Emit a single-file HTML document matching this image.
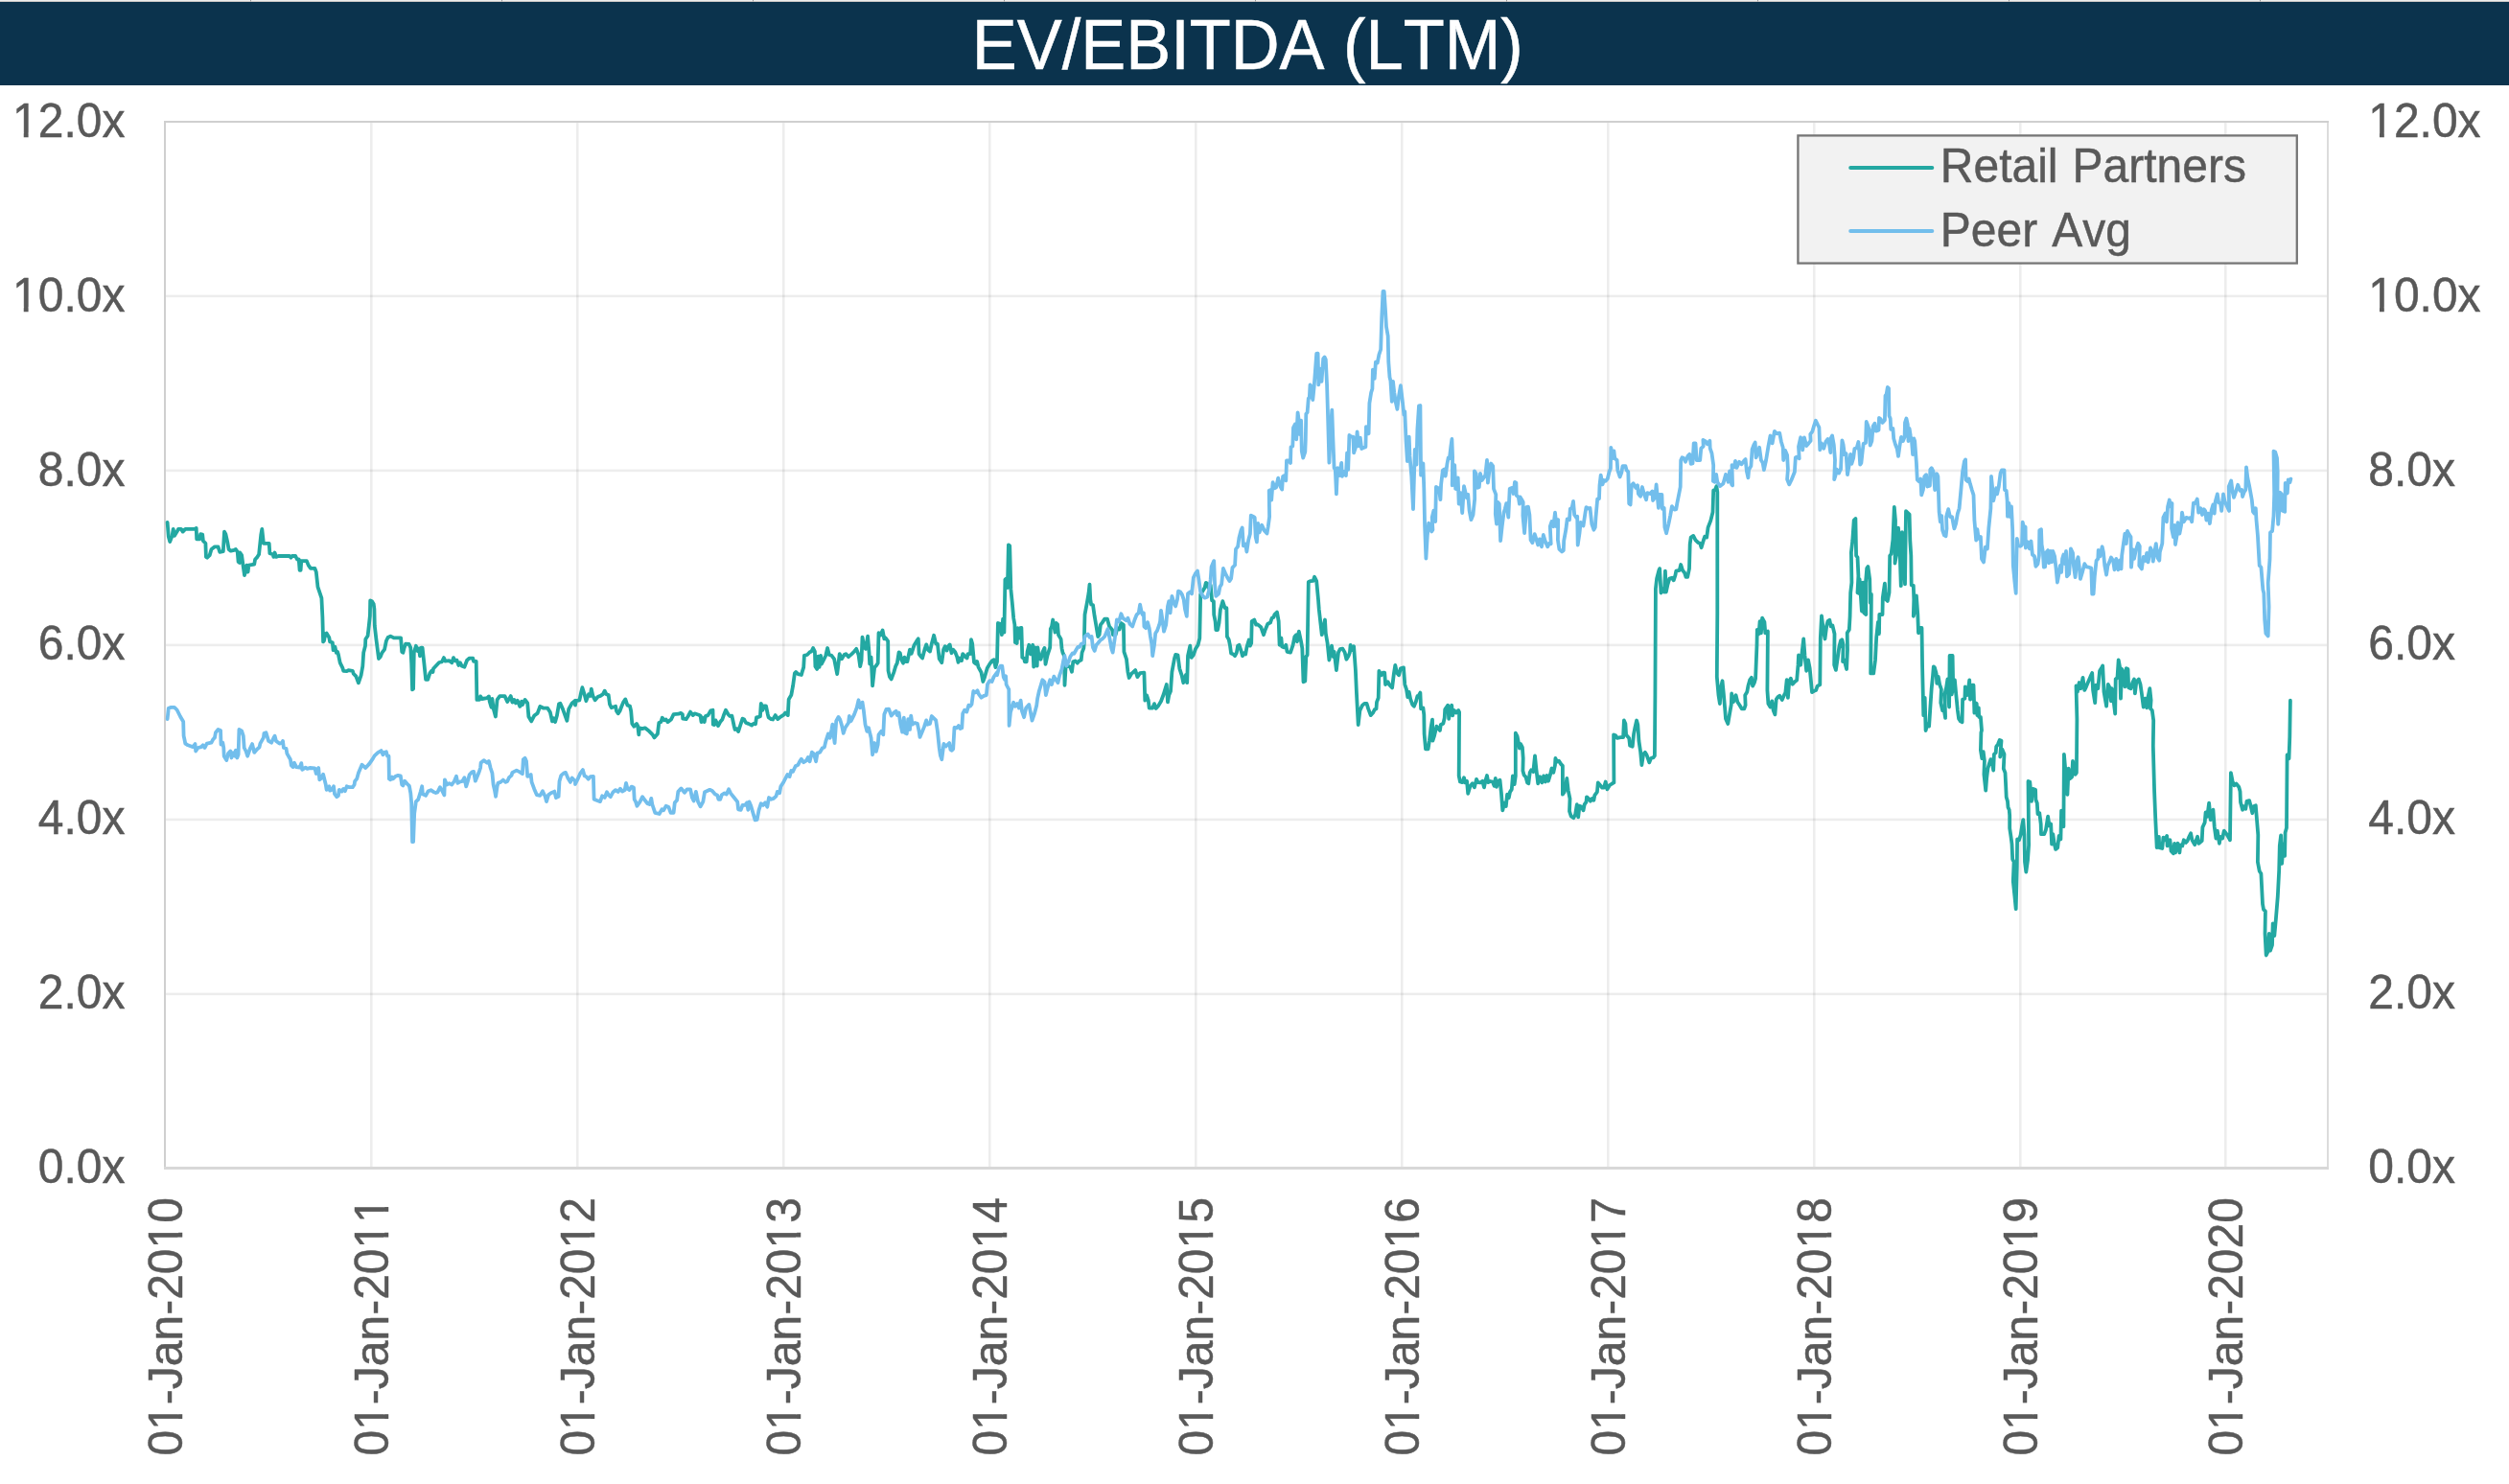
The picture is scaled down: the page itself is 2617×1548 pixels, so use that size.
<!DOCTYPE html>
<html><head><meta charset="utf-8"><title>EV/EBITDA (LTM)</title>
<style>
html,body{margin:0;padding:0;background:#fff;}
body{width:2617px;height:1548px;overflow:hidden;position:relative;font-family:"Liberation Sans",sans-serif;}
svg{position:absolute;left:0;top:0;display:block;}
text{font-family:"Liberation Sans",sans-serif;font-kerning:none;}
</style></head><body>
<svg width="2617" height="1548" viewBox="0 0 2617 1548">
<rect x="0" y="0" width="2617" height="1548" fill="#ffffff"/>
<rect x="0" y="0" width="2617" height="1" fill="#ededed"/><rect x="0" y="1" width="2617" height="1" fill="#cfcac8"/>
<g fill="#8a8a8a" fill-opacity="0.85"><rect x="261" y="0" width="1" height="1.4"/><rect x="523" y="0" width="1" height="1.4"/><rect x="785" y="0" width="1" height="1.4"/><rect x="1047" y="0" width="1" height="1.4"/><rect x="1309" y="0" width="1" height="1.4"/><rect x="1571" y="0" width="1" height="1.4"/><rect x="1833" y="0" width="1" height="1.4"/><rect x="2095" y="0" width="1" height="1.4"/><rect x="2357" y="0" width="1" height="1.4"/></g>
<rect x="0" y="2" width="2617" height="87" fill="#0b334d"/>
<text transform="translate(1301.3,72.2) scale(1,1.04)" text-anchor="middle" font-size="70.4" fill="#ffffff" stroke="#ffffff" stroke-width="0.5">EV/EBITDA (LTM)</text>
<g fill="#000" fill-opacity="0.072"><rect x="386.0" y="128" width="2.6" height="1089"/><rect x="601.0" y="128" width="2.6" height="1089"/><rect x="816.0" y="128" width="2.6" height="1089"/><rect x="1031.0" y="128" width="2.6" height="1089"/><rect x="1246.0" y="128" width="2.6" height="1089"/><rect x="1461.0" y="128" width="2.6" height="1089"/><rect x="1676.0" y="128" width="2.6" height="1089"/><rect x="1891.0" y="128" width="2.6" height="1089"/><rect x="2106.0" y="128" width="2.6" height="1089"/><rect x="2320.0" y="128" width="2.6" height="1089"/><rect x="173" y="1035.6" width="2254" height="2.6"/><rect x="173" y="853.6" width="2254" height="2.6"/><rect x="173" y="671.6" width="2254" height="2.6"/><rect x="173" y="489.6" width="2254" height="2.6"/><rect x="173" y="307.6" width="2254" height="2.6"/></g>
<rect x="2427" y="126" width="2" height="1093" fill="#dcdcdc"/><g fill="#cfcfcf"><rect x="171" y="126" width="2" height="1093"/><rect x="171" y="126" width="2258" height="2"/></g><rect x="171" y="1217" width="2258" height="3" fill="#d8d8d8"/>
<g font-size="48" fill="#595959" stroke="#595959" stroke-width="0.45"><text transform="translate(130.4,1233.9) scale(1,1.035)" text-anchor="end">0.0x</text><text transform="translate(2470.2,1233.9) scale(1,1.035)">0.0x</text><text transform="translate(130.4,1052.1) scale(1,1.035)" text-anchor="end">2.0x</text><text transform="translate(2470.2,1052.1) scale(1,1.035)">2.0x</text><text transform="translate(130.4,870.3) scale(1,1.035)" text-anchor="end">4.0x</text><text transform="translate(2470.2,870.3) scale(1,1.035)">4.0x</text><text transform="translate(130.4,688.4) scale(1,1.035)" text-anchor="end">6.0x</text><text transform="translate(2470.2,688.4) scale(1,1.035)">6.0x</text><text transform="translate(130.4,506.6) scale(1,1.035)" text-anchor="end">8.0x</text><text transform="translate(2470.2,506.6) scale(1,1.035)">8.0x</text><text transform="translate(130.4,324.8) scale(1,1.035)" text-anchor="end">10.0x</text><text transform="translate(2470.2,324.8) scale(1,1.035)">10.0x</text><text transform="translate(130.4,143.0) scale(1,1.035)" text-anchor="end">12.0x</text><text transform="translate(2470.2,143.0) scale(1,1.035)">12.0x</text><text transform="translate(189.9,1518.5) rotate(-90) scale(1,1.035)">01-Jan-2010</text><text transform="translate(404.6,1518.5) rotate(-90) scale(1,1.035)">01-Jan-2011</text><text transform="translate(619.6,1518.5) rotate(-90) scale(1,1.035)">01-Jan-2012</text><text transform="translate(834.6,1518.5) rotate(-90) scale(1,1.035)">01-Jan-2013</text><text transform="translate(1049.6,1518.5) rotate(-90) scale(1,1.035)">01-Jan-2014</text><text transform="translate(1264.6,1518.5) rotate(-90) scale(1,1.035)">01-Jan-2015</text><text transform="translate(1479.6,1518.5) rotate(-90) scale(1,1.035)">01-Jan-2016</text><text transform="translate(1694.6,1518.5) rotate(-90) scale(1,1.035)">01-Jan-2017</text><text transform="translate(1909.6,1518.5) rotate(-90) scale(1,1.035)">01-Jan-2018</text><text transform="translate(2124.6,1518.5) rotate(-90) scale(1,1.035)">01-Jan-2019</text><text transform="translate(2338.6,1518.5) rotate(-90) scale(1,1.035)">01-Jan-2020</text></g><g fill="#ffffff"><g transform="translate(130.4,1233.9) scale(1,1.035)"></g><g transform="translate(2470.2,1233.9) scale(1,1.035)"></g><g transform="translate(130.4,1052.1) scale(1,1.035)"></g><g transform="translate(2470.2,1052.1) scale(1,1.035)"></g><g transform="translate(130.4,870.3) scale(1,1.035)"></g><g transform="translate(2470.2,870.3) scale(1,1.035)"></g><g transform="translate(130.4,688.4) scale(1,1.035)"></g><g transform="translate(2470.2,688.4) scale(1,1.035)"></g><g transform="translate(130.4,506.6) scale(1,1.035)"></g><g transform="translate(2470.2,506.6) scale(1,1.035)"></g><g transform="translate(130.4,324.8) scale(1,1.035)"><rect x="-115.07" y="-4.19" width="9.41" height="5.59"/><rect x="-100.81" y="-4.19" width="9.04" height="5.59"/></g><g transform="translate(2470.2,324.8) scale(1,1.035)"><rect x="2.36" y="-4.19" width="9.41" height="5.59"/><rect x="16.61" y="-4.19" width="9.04" height="5.59"/></g><g transform="translate(130.4,143.0) scale(1,1.035)"><rect x="-115.07" y="-4.19" width="9.41" height="5.59"/><rect x="-100.81" y="-4.19" width="9.04" height="5.59"/></g><g transform="translate(2470.2,143.0) scale(1,1.035)"><rect x="2.36" y="-4.19" width="9.41" height="5.59"/><rect x="16.61" y="-4.19" width="9.04" height="5.59"/></g><g transform="translate(189.9,1518.5) rotate(-90) scale(1,1.035)"><rect x="29.05" y="-4.19" width="9.41" height="5.59"/><rect x="43.31" y="-4.19" width="9.04" height="5.59"/><rect x="218.50" y="-4.19" width="9.41" height="5.59"/><rect x="232.75" y="-4.19" width="9.04" height="5.59"/></g><g transform="translate(404.6,1518.5) rotate(-90) scale(1,1.035)"><rect x="29.05" y="-4.19" width="9.41" height="5.59"/><rect x="43.31" y="-4.19" width="9.04" height="5.59"/><rect x="218.50" y="-4.19" width="9.41" height="5.59"/><rect x="232.75" y="-4.19" width="9.04" height="5.59"/><rect x="245.19" y="-4.19" width="9.41" height="5.59"/><rect x="259.45" y="-4.19" width="9.04" height="5.59"/></g><g transform="translate(619.6,1518.5) rotate(-90) scale(1,1.035)"><rect x="29.05" y="-4.19" width="9.41" height="5.59"/><rect x="43.31" y="-4.19" width="9.04" height="5.59"/><rect x="218.50" y="-4.19" width="9.41" height="5.59"/><rect x="232.75" y="-4.19" width="9.04" height="5.59"/></g><g transform="translate(834.6,1518.5) rotate(-90) scale(1,1.035)"><rect x="29.05" y="-4.19" width="9.41" height="5.59"/><rect x="43.31" y="-4.19" width="9.04" height="5.59"/><rect x="218.50" y="-4.19" width="9.41" height="5.59"/><rect x="232.75" y="-4.19" width="9.04" height="5.59"/></g><g transform="translate(1049.6,1518.5) rotate(-90) scale(1,1.035)"><rect x="29.05" y="-4.19" width="9.41" height="5.59"/><rect x="43.31" y="-4.19" width="9.04" height="5.59"/><rect x="218.50" y="-4.19" width="9.41" height="5.59"/><rect x="232.75" y="-4.19" width="9.04" height="5.59"/></g><g transform="translate(1264.6,1518.5) rotate(-90) scale(1,1.035)"><rect x="29.05" y="-4.19" width="9.41" height="5.59"/><rect x="43.31" y="-4.19" width="9.04" height="5.59"/><rect x="218.50" y="-4.19" width="9.41" height="5.59"/><rect x="232.75" y="-4.19" width="9.04" height="5.59"/></g><g transform="translate(1479.6,1518.5) rotate(-90) scale(1,1.035)"><rect x="29.05" y="-4.19" width="9.41" height="5.59"/><rect x="43.31" y="-4.19" width="9.04" height="5.59"/><rect x="218.50" y="-4.19" width="9.41" height="5.59"/><rect x="232.75" y="-4.19" width="9.04" height="5.59"/></g><g transform="translate(1694.6,1518.5) rotate(-90) scale(1,1.035)"><rect x="29.05" y="-4.19" width="9.41" height="5.59"/><rect x="43.31" y="-4.19" width="9.04" height="5.59"/><rect x="218.50" y="-4.19" width="9.41" height="5.59"/><rect x="232.75" y="-4.19" width="9.04" height="5.59"/></g><g transform="translate(1909.6,1518.5) rotate(-90) scale(1,1.035)"><rect x="29.05" y="-4.19" width="9.41" height="5.59"/><rect x="43.31" y="-4.19" width="9.04" height="5.59"/><rect x="218.50" y="-4.19" width="9.41" height="5.59"/><rect x="232.75" y="-4.19" width="9.04" height="5.59"/></g><g transform="translate(2124.6,1518.5) rotate(-90) scale(1,1.035)"><rect x="29.05" y="-4.19" width="9.41" height="5.59"/><rect x="43.31" y="-4.19" width="9.04" height="5.59"/><rect x="218.50" y="-4.19" width="9.41" height="5.59"/><rect x="232.75" y="-4.19" width="9.04" height="5.59"/></g><g transform="translate(2338.6,1518.5) rotate(-90) scale(1,1.035)"><rect x="29.05" y="-4.19" width="9.41" height="5.59"/><rect x="43.31" y="-4.19" width="9.04" height="5.59"/></g></g>
<path d="M174.6,544.9 L175.8,559.8 L177.2,565.1 L179.6,558.9 L180.7,551.9 L181.9,558.9 L184.6,554.6 L186.0,551.9 L188.9,551.9 L190.7,554.6 L193.3,551.9 L203.0,551.9 L204.7,551.0 L205.2,562.4 L208.2,562.4 L209.1,557.2 L211.2,557.7 L211.9,564.2 L214.4,566.8 L214.9,580.9 L216.1,581.7 L218.7,579.1 L220.5,573.0 L224.0,570.3 L227.5,570.3 L229.3,575.9 L232.8,575.2 L234.0,554.6 L235.4,557.2 L237.2,565.1 L238.6,573.0 L240.7,574.7 L244.2,573.8 L245.9,573.0 L247.7,575.6 L248.6,586.1 L249.8,587.0 L250.3,576.5 L252.1,579.1 L253.8,591.4 L255.0,600.1 L257.3,589.6 L258.6,596.6 L259.4,589.6 L265.2,588.7 L266.1,583.5 L267.9,581.7 L270.1,578.2 L272.2,558.1 L273.3,551.9 L274.9,566.8 L280.7,566.8 L281.4,577.3 L284.5,578.2 L285.4,580.9 L286.6,576.5 L288.0,580.9 L290.6,580.0 L302.0,580.0 L303.5,581.7 L304.7,580.0 L308.2,580.0 L309.9,583.5 L311.7,583.5 L312.6,594.9 L313.6,594.9 L314.3,585.2 L319.9,585.2 L321.7,589.6 L324.0,592.8 L328.4,592.8 L329.8,596.6 L331.5,612.4 L332.7,615.9 L335.4,623.8 L336.4,644.0 L337.1,669.4 L338.0,668.5 L339.2,661.5 L340.6,660.6 L343.3,665.0 L344.1,669.4 L346.8,670.3 L347.6,678.2 L349.4,674.7 L350.8,680.8 L352.0,679.9 L352.9,682.6 L354.7,691.3 L357.3,696.6 L358.2,699.8 L361.7,700.1 L363.4,699.2 L367.8,699.8 L368.7,702.7 L371.3,705.4 L373.9,712.4 L376.6,704.5 L378.3,694.8 L379.2,680.8 L381.0,673.8 L381.3,666.8 L383.6,663.3 L384.8,652.8 L385.9,642.2 L386.2,626.5 L388.0,627.3 L389.7,630.0 L390.4,635.2 L390.8,652.8 L392.4,666.8 L395.0,687.0 L396.7,685.2 L398.5,680.8 L401.1,677.3 L402.9,668.5 L404.6,665.0 L407.3,663.6 L410.8,665.4 L418.1,665.4 L419.2,679.9 L420.4,680.8 L421.7,675.6 L423.1,671.7 L426.6,672.0 L428.3,675.6 L429.2,691.3 L430.1,719.4 L431.1,718.5 L431.8,680.8 L433.9,673.8 L435.7,679.1 L437.1,676.4 L438.0,684.3 L439.2,675.6 L440.6,675.6 L442.3,691.3 L444.1,708.9 L446.2,708.9 L448.5,701.9 L450.2,699.8 L451.5,701.0 L452.0,697.5 L458.1,691.0 L460.8,690.5 L463.0,686.1 L464.3,689.6 L468.6,689.2 L471.3,691.3 L473.0,686.1 L474.8,689.2 L476.5,688.7 L478.3,694.0 L480.0,691.3 L481.8,694.8 L484.4,695.7 L487.1,688.7 L489.7,686.6 L493.2,686.6 L494.1,689.9 L496.7,689.9 L497.4,729.9 L500.2,729.9 L501.1,726.4 L502.8,729.0 L508.1,728.2 L509.9,726.4 L510.7,731.7 L512.5,737.8 L513.4,729.0 L514.6,738.7 L516.9,747.5 L518.6,729.9 L521.3,726.1 L526.5,726.1 L529.2,732.0 L532.7,726.1 L534.4,732.6 L536.2,729.9 L537.9,733.4 L539.7,730.8 L542.3,736.9 L544.1,731.7 L544.9,735.2 L547.6,729.9 L550.2,733.4 L551.4,747.5 L554.2,752.4 L557.2,746.6 L560.7,743.9 L563.3,736.9 L565.1,737.8 L566.9,738.7 L571.2,738.7 L573.9,743.1 L576.0,752.4 L577.4,749.2 L579.1,753.1 L580.9,746.6 L583.0,734.3 L584.4,733.8 L587.0,739.6 L591.4,751.8 L593.2,739.6 L596.7,733.4 L600.0,730.8 L600.0,735.6 L600.9,731.2 L604.4,730.3 L606.1,722.4 L607.4,717.2 L609.6,724.2 L611.4,731.2 L614.0,724.2 L615.8,725.9 L616.8,718.6 L618.4,725.9 L620.7,730.3 L623.7,726.8 L626.3,725.9 L628.9,724.2 L630.7,720.7 L632.4,724.2 L634.7,725.1 L636.0,734.7 L637.7,738.2 L642.1,736.8 L643.0,741.7 L644.7,744.3 L646.5,741.7 L648.2,737.3 L650.0,732.9 L652.3,729.4 L654.4,735.6 L657.0,736.5 L658.2,741.7 L659.3,754.9 L661.4,757.8 L664.0,754.9 L665.2,757.1 L666.3,766.3 L667.0,759.3 L670.1,760.1 L672.8,759.3 L677.2,762.8 L680.7,766.3 L682.4,769.4 L685.9,765.4 L687.3,754.0 L689.4,753.1 L690.8,748.7 L692.9,751.4 L694.7,750.5 L696.5,753.1 L700.0,750.5 L702.6,745.2 L707.9,744.7 L710.1,743.8 L711.9,745.2 L712.2,749.6 L715.7,750.1 L717.8,747.0 L720.1,742.6 L722.8,746.1 L724.5,744.3 L728.9,745.7 L730.6,746.6 L731.5,753.1 L732.9,748.7 L734.7,753.1 L735.9,747.0 L738.5,746.1 L741.2,741.4 L743.5,740.8 L743.8,755.7 L745.2,756.1 L746.4,751.4 L749.1,757.1 L751.2,753.1 L753.4,750.5 L755.2,745.2 L757.0,740.8 L759.6,745.2 L761.3,747.0 L763.4,746.6 L765.7,757.5 L766.6,761.0 L768.4,760.1 L770.1,763.1 L771.9,757.5 L774.5,749.6 L776.2,750.5 L778.0,754.0 L780.6,754.9 L784.1,756.6 L785.9,754.9 L788.0,755.4 L789.0,748.4 L791.2,747.9 L792.9,747.3 L793.8,733.8 L795.5,740.8 L796.8,736.5 L799.0,736.5 L800.8,745.2 L801.7,748.4 L804.3,750.1 L806.1,750.5 L808.7,746.1 L811.3,750.1 L814.8,747.3 L817.5,745.6 L819.2,743.5 L821.8,746.1 L822.7,729.4 L825.3,725.1 L827.1,715.4 L828.9,702.3 L830.1,701.0 L832.4,703.1 L835.9,704.0 L837.1,699.6 L838.2,696.1 L838.9,683.8 L842.0,683.0 L844.6,680.3 L846.4,679.5 L848.1,676.0 L849.9,679.5 L850.4,695.2 L852.2,697.9 L853.4,684.7 L854.6,695.8 L856.0,683.8 L856.9,692.6 L859.2,688.2 L861.3,683.8 L863.1,676.0 L864.8,683.0 L867.4,683.8 L870.1,687.3 L871.8,696.1 L873.2,703.1 L874.5,692.6 L875.7,682.1 L878.0,687.3 L880.6,683.0 L882.3,682.1 L885.0,685.2 L888.5,682.1 L891.1,679.5 L893.2,676.8 L895.5,683.0 L897.2,695.2 L898.5,689.1 L899.5,664.6 L901.3,675.1 L903.0,676.8 L905.1,663.7 L906.5,680.3 L907.2,692.6 L908.6,685.6 L910.1,715.4 L912.2,696.1 L913.9,694.4 L915.7,691.7 L916.5,660.2 L918.3,662.8 L920.6,657.5 L922.3,666.3 L923.6,665.4 L926.2,668.9 L926.5,699.6 L927.9,705.8 L929.7,708.4 L932.3,701.4 L934.1,695.2 L935.8,691.7 L937.6,680.3 L938.8,681.2 L940.2,688.2 L942.0,691.7 L943.4,685.6 L944.6,690.0 L946.4,690.0 L949.0,677.7 L950.7,681.7 L953.4,673.3 L956.0,668.9 L957.8,666.3 L958.6,682.1 L960.4,684.7 L962.1,686.5 L964.4,677.7 L966.2,672.4 L967.9,677.7 L970.0,679.5 L971.8,671.6 L974.1,662.8 L976.2,671.6 L977.9,671.6 L979.7,687.3 L982.3,691.2 L984.1,677.7 L985.8,674.2 L987.6,678.6 L989.0,674.2 L990.7,672.4 L992.5,681.2 L994.2,677.7 L996.3,680.3 L998.1,684.7 L999.5,690.9 L1001.2,686.5 L1003.0,689.1 L1004.2,682.1 L1006.5,684.7 L1008.6,686.5 L1009.5,682.1 L1012.1,682.1 L1013.0,667.2 L1014.2,671.6 L1016.0,690.9 L1018.3,692.6 L1019.1,690.0 L1020.5,695.8 L1023.5,701.4 L1025.3,711.0 L1027.0,706.6 L1029.7,697.0 L1032.3,692.6 L1034.9,689.1 L1036.7,688.2 L1038.4,696.1 L1040.0,690.3 L1040.9,650.0 L1043.2,650.8 L1044.9,662.2 L1046.1,645.6 L1047.4,659.6 L1048.4,604.4 L1049.6,603.5 L1050.9,613.1 L1051.9,568.4 L1053.2,569.3 L1054.4,614.9 L1055.8,628.9 L1057.2,644.7 L1058.4,651.7 L1058.9,670.1 L1060.7,671.0 L1061.4,655.2 L1062.8,665.7 L1064.2,655.2 L1065.4,654.9 L1066.3,685.9 L1068.1,686.8 L1068.9,690.3 L1070.7,690.3 L1071.6,679.8 L1073.3,672.8 L1075.1,682.4 L1077.2,672.8 L1078.2,695.6 L1079.5,675.4 L1081.7,694.7 L1082.4,675.4 L1083.8,686.8 L1085.6,687.7 L1087.3,680.6 L1089.5,675.9 L1090.5,692.9 L1092.6,683.3 L1095.2,675.4 L1095.8,656.1 L1097.0,653.5 L1098.2,646.5 L1100.5,659.6 L1101.7,650.0 L1103.1,651.4 L1104.0,662.2 L1106.6,666.6 L1107.5,676.3 L1108.4,680.6 L1110.1,684.2 L1110.5,714.8 L1111.6,695.6 L1113.7,694.7 L1116.3,695.6 L1118.0,700.8 L1119.3,690.3 L1121.5,689.4 L1123.8,691.7 L1125.6,689.4 L1127.7,688.5 L1128.6,680.6 L1130.3,676.3 L1130.8,671.0 L1131.5,641.2 L1133.8,628.9 L1135.6,618.4 L1136.5,609.6 L1137.3,625.4 L1138.2,630.7 L1140.0,631.0 L1141.7,642.9 L1143.5,653.5 L1145.2,664.0 L1146.6,662.2 L1147.9,651.7 L1149.6,649.6 L1152.2,645.6 L1154.9,645.6 L1157.1,653.5 L1160.1,657.0 L1161.0,662.2 L1163.6,662.2 L1165.4,655.2 L1167.7,656.6 L1169.4,650.0 L1171.9,651.7 L1172.4,679.8 L1175.0,687.7 L1176.4,700.8 L1177.7,707.0 L1180.3,702.6 L1182.0,701.2 L1184.2,699.1 L1186.4,706.1 L1189.1,702.2 L1193.4,701.7 L1194.3,730.6 L1196.1,725.4 L1197.8,730.6 L1198.7,738.5 L1202.2,738.5 L1204.0,734.1 L1205.7,739.0 L1208.4,735.9 L1211.0,731.5 L1213.6,724.5 L1214.5,721.5 L1216.8,714.0 L1218.0,732.4 L1219.2,725.4 L1221.0,721.0 L1222.4,700.8 L1225.0,686.8 L1226.2,682.9 L1228.5,683.3 L1230.3,697.3 L1232.6,704.3 L1234.3,712.2 L1236.8,704.3 L1238.2,712.2 L1239.0,684.2 L1241.3,673.6 L1242.6,685.9 L1244.8,683.3 L1246.9,677.1 L1249.6,672.8 L1251.3,665.7 L1252.2,620.1 L1253.9,617.5 L1256.6,613.1 L1257.8,607.9 L1259.2,608.7 L1260.6,613.1 L1262.7,610.5 L1264.1,626.3 L1265.9,627.2 L1266.2,641.2 L1267.6,648.2 L1268.3,657.0 L1270.1,657.0 L1271.5,650.0 L1272.9,635.9 L1275.3,627.2 L1277.6,634.2 L1279.4,634.2 L1279.9,664.0 L1281.7,667.1 L1282.9,672.8 L1284.1,681.5 L1286.4,682.4 L1288.1,684.2 L1289.9,680.6 L1291.1,673.6 L1292.5,672.8 L1294.3,678.0 L1296.0,684.2 L1297.8,681.2 L1299.2,682.4 L1300.4,675.4 L1302.7,667.5 L1303.9,673.6 L1305.2,671.0 L1305.7,648.2 L1308.3,646.5 L1310.1,651.7 L1311.8,651.4 L1315.3,654.3 L1318.0,662.2 L1319.7,657.0 L1322.3,650.8 L1325.0,649.6 L1326.7,644.7 L1328.5,643.8 L1329.4,641.2 L1332.0,638.6 L1333.7,648.2 L1334.6,672.8 L1336.4,665.7 L1337.2,674.5 L1339.5,675.4 L1341.3,672.8 L1342.5,679.8 L1346.0,680.6 L1348.6,672.8 L1350.4,664.0 L1352.2,662.2 L1353.0,669.3 L1354.8,658.7 L1357.1,669.3 L1358.3,676.3 L1359.5,711.3 L1361.3,710.5 L1362.3,685.0 L1363.6,683.3 L1364.8,607.0 L1367.1,606.1 L1369.7,605.8 L1371.1,601.7 L1373.2,606.1 L1375.0,625.4 L1375.8,635.9 L1377.6,651.7 L1378.8,662.2 L1380.2,655.2 L1382.0,646.5 L1382.8,660.5 L1384.6,671.0 L1386.4,688.5 L1388.1,679.8 L1389.0,673.6 L1390.7,685.0 L1391.6,679.8 L1393.9,699.1 L1396.0,680.6 L1397.8,677.1 L1400.4,676.6 L1402.7,680.6 L1404.4,687.7 L1406.5,684.2 L1407.9,680.6 L1408.6,672.8 L1410.4,678.0 L1412.1,674.2 L1413.9,699.1 L1414.9,721.9 L1416.7,756.1 L1418.4,741.2 L1420.9,735.9 L1423.2,733.8 L1425.5,733.8 L1427.2,739.4 L1429.7,746.1 L1431.9,743.8 L1433.7,740.3 L1435.5,739.4 L1436.0,732.4 L1437.7,728.0 L1438.4,699.9 L1440.7,704.3 L1442.5,701.7 L1444.2,701.7 L1445.1,714.0 L1447.7,711.3 L1449.5,714.8 L1452.1,717.5 L1453.9,702.6 L1455.3,693.8 L1457.0,701.7 L1459.1,704.3 L1460.9,697.3 L1464.0,696.4 L1465.3,714.0 L1467.0,719.2 L1468.3,727.1 L1469.7,721.9 L1471.1,728.9 L1473.2,735.0 L1474.9,736.8 L1476.7,732.4 L1478.4,726.2 L1480.0,727.1 L1480.0,725.2 L1481.4,722.6 L1482.1,739.3 L1484.4,738.4 L1485.3,745.4 L1485.6,765.6 L1487.0,781.3 L1489.6,781.3 L1490.9,772.6 L1492.6,758.5 L1494.0,750.6 L1494.4,772.6 L1496.1,767.3 L1498.4,757.7 L1500.7,760.3 L1501.9,762.0 L1502.8,755.9 L1505.4,754.7 L1506.7,748.9 L1507.2,740.1 L1508.9,737.5 L1510.2,735.7 L1511.2,749.8 L1512.4,741.0 L1514.2,735.7 L1515.1,746.3 L1516.8,741.0 L1518.9,743.6 L1521.2,741.0 L1522.1,742.8 L1521.7,809.4 L1523.0,815.5 L1525.2,816.1 L1527.0,811.2 L1528.2,816.4 L1530.0,814.7 L1531.2,827.8 L1533.5,819.9 L1535.8,817.3 L1537.9,821.3 L1540.0,812.9 L1541.7,816.1 L1544.0,816.4 L1546.3,814.7 L1548.0,821.3 L1549.3,814.7 L1551.0,809.0 L1552.3,816.1 L1554.5,815.0 L1556.8,815.5 L1558.6,819.9 L1559.8,812.0 L1561.0,820.8 L1562.8,814.7 L1564.5,813.8 L1565.9,826.9 L1567.3,845.3 L1569.1,837.5 L1570.8,841.0 L1572.1,828.7 L1573.8,832.2 L1575.0,826.1 L1576.8,823.4 L1577.9,809.4 L1579.6,818.2 L1580.8,809.4 L1580.8,764.7 L1582.6,768.2 L1583.8,774.3 L1584.9,780.5 L1586.1,776.1 L1587.9,779.6 L1588.7,791.0 L1588.4,804.1 L1589.6,808.5 L1591.4,810.3 L1593.1,816.4 L1594.3,817.3 L1595.7,805.9 L1597.1,803.3 L1599.3,805.0 L1601.0,788.4 L1602.4,802.4 L1604.2,817.3 L1606.3,810.3 L1608.4,816.4 L1610.1,809.4 L1611.9,815.5 L1613.6,809.0 L1615.0,814.7 L1617.1,807.6 L1618.5,801.5 L1620.3,805.9 L1622.0,798.0 L1622.4,791.0 L1624.2,794.5 L1625.9,793.6 L1628.2,797.1 L1629.9,798.9 L1629.9,828.7 L1631.7,826.1 L1632.9,821.7 L1634.3,812.0 L1635.7,824.3 L1637.5,833.1 L1637.0,846.2 L1638.7,851.5 L1641.3,853.2 L1643.1,849.7 L1644.8,839.2 L1646.2,852.4 L1647.5,840.6 L1649.8,841.8 L1651.5,845.3 L1652.7,839.2 L1654.5,836.6 L1655.0,831.3 L1657.1,833.1 L1658.9,835.7 L1660.6,833.1 L1662.4,834.8 L1663.3,829.6 L1665.9,826.1 L1666.8,816.4 L1669.0,819.0 L1671.2,821.7 L1672.9,821.7 L1674.7,815.5 L1676.4,823.4 L1679.0,819.0 L1681.7,817.3 L1683.4,816.4 L1683.1,766.4 L1685.2,767.3 L1686.9,769.9 L1690.4,769.1 L1693.1,769.1 L1693.9,751.5 L1695.4,755.0 L1696.1,766.4 L1699.2,769.9 L1700.1,777.8 L1702.7,778.7 L1704.1,765.6 L1705.3,759.4 L1707.1,751.5 L1708.3,755.9 L1709.4,772.6 L1711.1,784.0 L1712.4,798.0 L1714.1,786.6 L1715.9,784.8 L1717.6,787.5 L1720.3,795.4 L1722.0,791.0 L1724.6,790.1 L1725.9,788.4 L1726.4,725.2 L1726.9,620.0 L1726.9,614.1 L1728.1,603.6 L1730.4,594.8 L1731.1,593.1 L1732.5,618.5 L1734.3,614.1 L1736.0,617.6 L1736.9,595.7 L1737.8,617.6 L1739.5,609.7 L1741.3,603.6 L1743.9,602.7 L1745.7,605.3 L1747.4,600.1 L1748.3,595.7 L1751.8,594.8 L1753.2,589.0 L1755.0,594.8 L1757.1,597.5 L1758.5,601.8 L1760.2,601.8 L1762.0,593.1 L1762.7,567.6 L1763.7,560.6 L1766.2,558.9 L1768.5,563.3 L1771.1,565.9 L1773.2,566.8 L1774.6,571.2 L1777.2,562.4 L1778.1,559.8 L1780.2,560.6 L1781.6,550.1 L1784.3,543.1 L1786.5,534.3 L1787.2,511.5 L1789.0,510.6 L1790.4,507.1 L1791.3,513.3 L1791.3,639.9 L1790.8,705.9 L1792.5,725.2 L1793.9,734.0 L1794.8,718.2 L1796.5,710.3 L1797.8,723.5 L1799.2,739.3 L1800.0,749.8 L1802.3,755.0 L1804.1,744.5 L1805.8,734.9 L1806.2,723.5 L1807.9,732.2 L1810.6,725.2 L1812.3,732.2 L1814.6,735.7 L1816.7,739.3 L1819.3,739.3 L1820.6,735.7 L1820.2,725.2 L1822.3,721.7 L1823.4,715.6 L1825.1,709.4 L1826.9,706.8 L1828.1,715.6 L1829.9,712.1 L1831.1,707.7 L1832.5,672.6 L1832.8,656.8 L1834.6,661.2 L1835.6,648.1 L1836.9,660.3 L1838.1,644.6 L1840.4,648.9 L1841.3,660.3 L1843.9,658.6 L1843.4,720.0 L1844.4,734.0 L1846.5,737.5 L1848.3,731.4 L1849.7,741.0 L1851.4,745.4 L1852.7,729.6 L1854.4,727.0 L1856.2,725.7 L1858.8,730.1 L1860.9,725.2 L1862.3,722.6 L1863.7,709.1 L1864.9,727.9 L1866.2,711.2 L1867.9,707.7 L1869.7,713.8 L1871.9,711.2 L1874.2,709.4 L1875.5,693.7 L1876.0,683.5 L1878.1,693.7 L1879.8,678.7 L1881.2,666.5 L1882.5,684.0 L1884.2,699.8 L1886.0,688.4 L1887.7,697.2 L1889.0,711.2 L1890.0,722.1 L1892.1,720.8 L1894.2,720.0 L1895.6,715.6 L1898.3,714.3 L1898.8,665.6 L1900.0,642.4 L1901.8,656.8 L1903.5,666.5 L1905.3,652.4 L1906.5,648.1 L1908.3,646.7 L1909.7,653.3 L1911.4,652.4 L1913.5,661.2 L1913.2,693.7 L1914.9,698.9 L1916.7,686.6 L1918.4,674.4 L1920.0,668.2 L1920.0,674.3 L1921.4,667.3 L1922.6,672.6 L1922.1,690.1 L1923.9,688.4 L1924.9,693.6 L1926.1,698.0 L1927.0,677.8 L1926.7,660.3 L1928.8,656.8 L1929.6,642.8 L1930.2,618.2 L1931.4,607.7 L1930.9,576.1 L1932.3,563.8 L1933.7,542.8 L1935.4,541.0 L1936.1,579.6 L1937.5,581.4 L1938.4,600.7 L1937.5,618.2 L1939.3,619.1 L1939.6,604.2 L1941.0,623.5 L1941.9,637.5 L1943.1,607.7 L1944.2,639.3 L1946.3,641.0 L1946.0,607.7 L1947.2,592.8 L1948.4,591.0 L1950.2,604.2 L1950.7,628.7 L1951.9,620.0 L1951.2,702.4 L1954.2,702.4 L1956.0,688.4 L1957.2,664.7 L1958.9,648.9 L1960.0,661.2 L1960.3,641.0 L1962.1,641.0 L1963.5,641.0 L1963.8,623.5 L1965.9,608.6 L1967.0,625.2 L1968.8,627.0 L1970.5,618.2 L1971.2,579.6 L1972.6,577.9 L1974.4,563.0 L1975.8,528.8 L1977.0,542.8 L1976.5,587.5 L1978.2,577.9 L1980.0,550.7 L1981.4,569.1 L1982.8,611.2 L1984.0,555.1 L1985.2,572.6 L1987.0,609.4 L1988.0,533.2 L1989.8,534.9 L1991.6,536.7 L1992.3,563.8 L1993.3,579.6 L1993.7,610.3 L1995.8,610.8 L1996.3,625.2 L1995.8,642.8 L1997.5,635.7 L1998.9,621.4 L2000.3,641.0 L2001.0,660.3 L2002.1,659.4 L2002.8,655.0 L2004.5,655.0 L2005.1,695.4 L2006.3,746.2 L2007.7,727.8 L2008.6,762.0 L2010.3,755.0 L2012.1,757.6 L2013.3,739.2 L2014.7,718.2 L2016.1,704.1 L2016.8,695.4 L2017.9,696.2 L2019.6,702.4 L2020.3,712.9 L2021.7,705.9 L2023.1,713.8 L2024.9,719.0 L2024.3,733.1 L2026.1,741.0 L2027.3,737.5 L2029.1,748.9 L2028.4,724.3 L2030.1,717.3 L2031.4,708.5 L2033.1,737.5 L2033.6,684.0 L2036.6,684.0 L2037.1,710.3 L2035.7,724.3 L2038.9,709.4 L2040.1,722.6 L2041.9,741.0 L2043.1,749.7 L2044.9,752.4 L2046.6,753.2 L2047.1,729.6 L2049.4,728.7 L2049.8,716.4 L2051.5,725.2 L2052.9,719.9 L2054.2,709.4 L2055.0,729.6 L2056.8,727.8 L2057.1,714.7 L2058.5,714.7 L2059.4,743.6 L2060.3,733.1 L2061.7,733.9 L2062.4,746.2 L2063.8,738.3 L2064.2,748.0 L2065.9,748.0 L2067.0,762.0 L2066.4,764.0 L2065.9,782.4 L2067.3,791.2 L2068.7,784.2 L2069.9,793.8 L2069.4,807.9 L2071.2,824.5 L2072.2,811.4 L2073.4,801.7 L2075.2,795.6 L2076.4,792.1 L2077.8,794.7 L2079.2,803.5 L2079.9,786.8 L2081.7,785.1 L2082.2,778.9 L2084.0,776.3 L2085.7,771.9 L2087.5,772.8 L2086.2,789.5 L2088.4,781.6 L2090.5,786.8 L2089.8,801.7 L2091.5,806.1 L2092.2,820.1 L2092.7,831.5 L2094.0,835.9 L2094.5,842.1 L2095.7,844.7 L2096.2,850.8 L2096.2,864.0 L2097.5,872.8 L2098.5,880.6 L2099.2,896.4 L2100.6,899.1 L2099.8,919.2 L2101.5,935.9 L2102.7,948.2 L2103.8,904.3 L2104.1,875.4 L2105.9,876.3 L2107.6,871.0 L2109.0,862.2 L2110.3,855.2 L2111.5,871.0 L2112.0,899.1 L2113.3,909.6 L2115.0,897.3 L2116.1,881.5 L2115.5,814.9 L2117.3,815.8 L2119.0,835.9 L2120.3,822.8 L2123.1,823.7 L2123.4,834.2 L2124.8,837.7 L2125.5,849.1 L2127.3,848.2 L2128.7,859.6 L2129.0,870.1 L2132.2,870.1 L2133.9,865.7 L2136.1,851.7 L2137.5,861.4 L2139.2,859.6 L2140.1,880.6 L2141.3,870.1 L2142.7,879.8 L2144.1,885.9 L2146.2,884.2 L2147.6,871.9 L2149.4,875.4 L2150.1,845.6 L2151.1,862.2 L2152.4,862.2 L2152.9,786.8 L2154.1,800.9 L2155.3,814.9 L2156.4,828.9 L2157.6,801.7 L2158.9,812.3 L2161.1,810.5 L2162.0,793.8 L2163.4,802.6 L2164.6,807.9 L2165.9,806.1 L2166.4,750.0 L2165.5,715.5 L2166.9,721.7 L2168.7,712.0 L2170.4,718.2 L2172.5,706.8 L2174.3,719.9 L2176.0,716.4 L2178.1,711.2 L2180.4,705.9 L2182.2,702.0 L2183.1,719.9 L2185.2,733.1 L2186.2,714.7 L2188.3,718.2 L2190.1,699.8 L2191.8,697.1 L2193.2,694.5 L2194.5,721.7 L2197.1,736.6 L2198.8,713.8 L2200.6,717.3 L2202.0,731.3 L2202.7,718.2 L2204.4,729.6 L2206.2,744.5 L2206.7,708.5 L2208.5,706.8 L2209.7,688.4 L2211.1,696.2 L2212.0,728.7 L2213.2,698.0 L2215.0,701.5 L2216.4,716.4 L2217.8,697.1 L2219.5,698.0 L2220.2,717.3 L2222.5,718.2 L2224.3,712.0 L2226.0,708.5 L2226.9,723.4 L2228.3,711.2 L2230.8,708.5 L2232.5,713.8 L2233.9,723.4 L2235.7,737.5 L2237.8,728.7 L2239.2,738.3 L2240.6,726.9 L2242.3,718.2 L2243.6,730.4 L2243.0,739.2 L2244.8,741.0 L2246.2,751.5 L2245.8,778.1 L2247.1,825.4 L2248.3,855.2 L2249.7,884.2 L2251.8,872.8 L2252.3,884.2 L2255.3,885.0 L2256.4,873.6 L2258.1,876.3 L2260.2,871.9 L2260.6,882.4 L2263.4,876.3 L2264.6,887.7 L2266.9,890.3 L2268.1,879.8 L2269.0,889.4 L2271.6,879.8 L2273.4,889.4 L2274.2,881.5 L2276.3,882.4 L2277.8,876.3 L2279.9,878.9 L2281.6,877.1 L2283.0,873.6 L2285.1,869.3 L2286.5,876.3 L2289.2,881.2 L2290.4,877.1 L2292.1,872.8 L2293.5,879.8 L2296.7,877.1 L2297.4,863.1 L2299.7,857.9 L2300.6,847.3 L2302.3,851.7 L2304.1,837.7 L2305.8,855.2 L2307.6,851.7 L2308.4,844.7 L2309.7,862.2 L2311.4,874.5 L2312.8,866.6 L2314.9,879.8 L2316.0,872.8 L2318.1,874.5 L2319.8,866.6 L2322.5,870.1 L2325.1,874.5 L2326.0,876.3 L2326.9,806.1 L2328.6,814.9 L2330.4,819.3 L2332.5,817.5 L2335.3,821.0 L2336.5,825.4 L2337.0,836.8 L2339.1,844.7 L2340.0,841.2 L2342.3,843.8 L2343.5,835.9 L2346.1,835.1 L2347.5,840.3 L2349.3,848.2 L2350.5,841.2 L2352.8,840.3 L2354.0,855.2 L2355.3,871.0 L2354.9,899.1 L2356.7,908.7 L2358.4,911.3 L2360.0,942.9 L2360.0,943.0 L2361.0,948.6 L2362.9,950.6 L2362.5,974.0 L2363.7,996.5 L2365.5,992.6 L2366.8,974.0 L2368.0,991.6 L2370.0,985.8 L2370.7,963.3 L2372.3,976.0 L2373.9,958.4 L2375.8,935.0 L2377.2,907.6 L2377.8,882.2 L2379.1,871.4 L2380.1,900.8 L2381.7,880.2 L2383.1,892.9 L2383.6,868.5 L2385.0,863.6 L2385.6,787.4 L2387.5,791.3 L2388.3,768.9 L2388.9,730.7" fill="none" stroke="#23a8a2" stroke-width="3.8" stroke-linejoin="round" stroke-linecap="round"/>
<path d="M174.6,750.1 L175.8,738.7 L178.4,737.9 L181.9,737.9 L184.6,740.5 L188.1,747.5 L191.2,752.8 L191.6,767.7 L192.4,771.2 L193.3,775.6 L196.0,777.3 L198.6,778.2 L201.2,779.1 L203.5,776.1 L204.2,783.5 L206.5,780.0 L210.0,779.1 L211.7,777.3 L213.5,780.0 L215.8,775.6 L220.5,774.7 L222.3,771.2 L224.0,769.4 L224.9,764.2 L227.5,761.0 L230.1,762.1 L230.5,776.5 L232.3,774.7 L233.3,780.0 L233.7,788.7 L236.3,793.1 L238.0,786.1 L240.3,783.5 L241.5,790.5 L243.3,785.2 L245.1,788.7 L245.9,782.6 L247.3,790.5 L248.6,787.0 L249.4,761.0 L252.1,762.4 L253.8,767.7 L254.7,780.0 L256.5,783.5 L258.2,788.7 L260.8,780.8 L263.1,776.1 L265.2,784.9 L267.9,781.7 L270.5,779.6 L271.4,775.6 L274.9,769.4 L275.4,765.1 L277.5,764.2 L280.1,772.9 L283.1,774.7 L285.4,769.8 L286.6,767.7 L288.0,772.9 L291.5,775.6 L294.2,774.7 L295.0,772.9 L295.9,780.0 L298.5,780.8 L299.4,786.1 L302.9,792.2 L303.8,798.4 L305.6,800.1 L307.0,795.7 L309.1,800.1 L312.6,800.7 L314.3,796.1 L315.2,802.8 L318.7,800.7 L320.5,801.9 L323.1,801.0 L328.4,801.4 L329.8,807.1 L331.0,802.8 L332.2,801.0 L333.3,813.3 L335.4,811.5 L337.1,807.7 L339.8,818.5 L340.6,823.8 L343.3,820.3 L344.1,824.7 L346.2,823.8 L348.0,820.3 L349.0,828.2 L351.2,831.2 L352.9,829.9 L353.8,823.8 L356.4,825.6 L358.2,822.9 L359.9,825.2 L361.7,820.3 L364.3,821.2 L367.8,821.2 L369.6,818.5 L370.1,815.0 L372.2,812.4 L373.9,806.3 L377.5,797.8 L381.3,801.0 L385.3,796.6 L388.9,791.4 L390.6,788.4 L394.1,785.2 L397.6,783.1 L399.4,787.3 L401.1,784.9 L402.9,784.3 L404.1,788.7 L405.5,788.7 L405.9,812.4 L407.3,813.3 L409.0,810.6 L409.9,812.4 L412.5,809.8 L415.2,808.9 L417.8,809.4 L419.2,818.5 L420.4,819.4 L422.2,814.7 L424.8,817.7 L426.9,819.9 L428.3,827.3 L429.2,837.8 L430.1,878.2 L431.1,878.2 L432.2,848.4 L433.9,836.1 L436.2,834.0 L438.8,825.6 L440.2,820.3 L440.9,828.2 L444.1,829.9 L446.7,825.2 L449.4,824.2 L452.0,825.9 L454.6,827.0 L456.4,826.4 L459.0,821.2 L461.6,825.6 L463.4,829.4 L463.9,813.3 L466.0,818.5 L468.6,817.1 L471.3,818.5 L473.9,814.7 L476.0,809.8 L477.4,816.8 L480.0,815.4 L482.3,815.0 L484.4,811.2 L486.2,820.3 L487.9,815.0 L489.7,808.0 L492.3,805.4 L494.1,804.9 L495.8,814.7 L499.3,806.3 L501.1,801.0 L501.6,795.7 L504.6,793.1 L508.1,795.7 L509.9,794.0 L511.6,801.0 L513.4,806.3 L514.6,818.5 L516.0,824.7 L517.1,830.8 L518.6,820.3 L519.5,816.8 L522.1,815.9 L524.8,813.6 L527.4,815.9 L529.2,815.0 L530.9,811.2 L533.5,808.9 L534.4,805.9 L538.8,803.6 L542.3,805.4 L544.9,807.1 L545.8,792.2 L547.6,790.8 L549.0,794.0 L550.2,809.8 L551.9,809.4 L553.7,808.0 L554.6,815.9 L557.2,822.9 L559.8,829.1 L563.3,829.9 L566.0,825.2 L568.6,830.8 L570.0,836.1 L572.1,829.1 L574.7,827.3 L578.3,825.6 L580.0,832.2 L582.6,830.8 L583.5,815.0 L585.3,808.9 L587.9,806.6 L590.0,805.9 L592.3,811.5 L594.9,815.9 L596.7,811.5 L600.0,815.0 L600.0,818.0 L602.6,812.7 L605.3,806.6 L607.9,803.1 L609.6,809.2 L611.4,810.1 L613.7,812.7 L615.8,810.1 L618.9,809.8 L619.6,833.8 L622.8,835.0 L626.0,836.1 L628.1,830.3 L630.7,832.0 L633.0,826.2 L635.1,829.7 L636.8,831.2 L639.5,826.2 L642.1,824.1 L644.7,825.9 L647.0,822.7 L649.1,825.5 L651.7,824.1 L653.0,816.8 L654.4,822.4 L656.5,824.1 L658.7,820.6 L661.0,821.5 L661.7,833.8 L663.1,836.4 L664.5,840.8 L667.5,836.4 L670.1,831.2 L671.9,833.8 L675.4,838.2 L677.5,839.0 L679.3,832.9 L680.3,839.0 L682.1,844.3 L683.3,847.8 L687.7,849.0 L690.3,844.3 L692.1,845.2 L694.7,840.8 L697.3,841.7 L699.6,847.8 L702.6,847.8 L703.8,837.3 L706.1,834.7 L707.3,825.9 L710.5,822.4 L714.0,826.8 L716.6,823.3 L720.1,823.3 L721.9,832.0 L723.6,835.5 L725.9,825.9 L728.0,836.1 L730.6,841.3 L733.3,836.4 L735.0,826.2 L737.7,825.0 L740.3,823.8 L742.9,825.0 L745.9,828.5 L748.2,829.4 L749.4,833.8 L751.2,833.8 L752.9,829.0 L755.7,827.3 L757.8,828.5 L760.1,823.3 L762.2,827.6 L765.7,832.0 L769.2,836.4 L770.1,844.3 L772.7,844.8 L774.5,839.9 L777.1,839.9 L779.2,837.3 L780.3,844.8 L781.5,836.4 L783.3,840.8 L785.9,849.6 L787.6,855.4 L789.7,854.8 L791.5,845.2 L793.8,838.2 L796.1,839.9 L798.2,837.3 L800.3,841.7 L802.0,832.0 L804.3,833.8 L806.9,832.9 L809.6,830.3 L810.8,825.9 L813.1,827.3 L814.3,820.6 L817.5,815.4 L821.3,808.0 L823.6,810.1 L825.3,804.0 L827.1,804.8 L829.7,799.2 L832.4,797.8 L834.1,794.3 L835.9,791.7 L838.2,795.2 L841.1,793.4 L842.9,789.9 L844.6,794.3 L846.9,784.7 L849.0,786.4 L851.1,794.3 L852.5,785.6 L855.2,784.7 L857.8,780.3 L859.9,779.4 L861.3,773.3 L863.9,765.4 L865.7,769.8 L867.4,761.0 L868.3,755.7 L869.7,768.0 L870.6,775.0 L872.2,752.2 L874.5,747.9 L876.2,750.5 L878.0,756.6 L879.7,764.9 L881.5,759.3 L885.0,754.0 L885.9,747.0 L887.6,752.2 L891.1,745.2 L893.7,738.2 L895.5,730.3 L897.2,738.2 L899.5,732.6 L900.8,740.8 L902.5,755.7 L904.3,762.8 L906.0,759.3 L908.6,769.8 L910.1,787.3 L912.2,775.0 L913.9,783.8 L915.7,776.8 L916.5,766.3 L919.2,762.8 L921.3,766.3 L922.3,745.2 L924.4,740.0 L927.1,739.6 L929.7,746.6 L932.3,743.5 L934.6,741.7 L935.8,746.1 L937.6,743.5 L939.3,755.7 L941.1,763.6 L942.8,748.7 L944.1,764.5 L945.8,765.4 L947.2,750.1 L949.0,761.0 L950.2,746.6 L951.6,755.7 L954.2,754.0 L956.9,754.9 L958.6,762.8 L959.5,768.9 L962.1,762.8 L963.9,758.4 L966.2,751.4 L967.4,755.7 L970.0,754.9 L971.8,747.0 L974.4,749.6 L976.2,751.4 L977.9,762.8 L979.7,780.3 L980.9,788.2 L982.3,792.2 L984.4,775.9 L986.7,778.5 L990.2,775.0 L991.4,782.0 L992.8,782.9 L994.2,781.2 L995.5,758.9 L998.1,759.3 L999.8,757.1 L1001.6,760.1 L1003.3,759.3 L1004.2,744.3 L1006.0,740.8 L1008.3,742.6 L1010.4,735.6 L1012.1,736.5 L1013.5,734.7 L1015.3,721.0 L1017.4,722.4 L1019.5,720.3 L1020.9,724.2 L1023.5,727.7 L1026.1,725.9 L1028.8,725.1 L1030.0,713.7 L1032.3,710.1 L1034.6,711.0 L1036.7,705.8 L1040.0,701.4 L1040.0,704.3 L1041.8,697.3 L1043.5,694.7 L1045.3,694.7 L1046.7,706.1 L1047.9,708.7 L1049.1,705.2 L1049.6,714.0 L1051.4,717.5 L1052.3,719.2 L1052.6,756.9 L1054.0,742.9 L1056.1,735.9 L1057.2,732.7 L1058.9,736.8 L1061.0,734.1 L1062.8,738.5 L1064.6,730.6 L1066.0,742.0 L1068.1,748.2 L1070.2,738.5 L1073.3,735.0 L1074.7,742.0 L1076.5,751.7 L1078.9,744.7 L1081.2,735.9 L1082.1,728.9 L1083.8,721.0 L1085.9,714.0 L1087.3,709.2 L1089.5,711.3 L1090.9,725.0 L1093.0,716.6 L1095.2,709.2 L1097.0,714.0 L1099.3,705.7 L1101.7,709.6 L1103.5,712.2 L1105.2,704.3 L1107.5,698.2 L1109.3,688.5 L1110.5,684.2 L1112.3,694.7 L1114.5,690.3 L1116.3,685.0 L1118.6,681.5 L1120.3,681.9 L1122.4,678.0 L1124.2,674.9 L1125.9,674.9 L1127.7,671.9 L1130.3,671.0 L1131.5,664.0 L1134.7,661.4 L1136.8,664.9 L1138.6,664.0 L1140.0,675.4 L1141.7,678.9 L1143.5,672.8 L1145.2,671.0 L1147.9,667.5 L1149.6,666.6 L1152.2,664.0 L1154.0,659.6 L1155.4,656.1 L1157.1,664.0 L1159.3,676.3 L1160.7,680.6 L1162.8,665.7 L1164.9,646.5 L1167.1,648.2 L1169.4,640.3 L1171.2,644.7 L1172.9,646.1 L1175.0,647.3 L1176.4,644.7 L1178.5,650.8 L1181.2,653.5 L1183.5,646.5 L1185.6,641.2 L1187.7,639.4 L1189.1,630.7 L1190.5,637.7 L1191.7,641.2 L1192.9,639.4 L1193.4,653.5 L1195.2,655.2 L1197.0,649.1 L1198.7,655.2 L1199.9,664.0 L1201.3,671.9 L1202.2,684.2 L1204.0,672.8 L1205.2,660.5 L1207.0,657.9 L1209.2,651.7 L1210.1,648.2 L1211.0,636.8 L1212.7,648.2 L1214.0,658.7 L1216.2,651.7 L1218.0,632.4 L1219.2,627.2 L1220.6,639.4 L1222.4,621.9 L1224.5,628.9 L1226.2,632.4 L1228.0,625.4 L1229.0,616.6 L1231.2,617.5 L1232.9,620.1 L1234.7,625.4 L1236.1,635.9 L1237.8,642.9 L1239.0,619.3 L1241.3,617.5 L1243.1,619.3 L1244.8,602.6 L1246.9,598.2 L1249.0,595.6 L1250.4,604.4 L1252.2,617.5 L1254.8,621.9 L1256.6,623.7 L1259.2,622.8 L1261.3,614.9 L1262.7,604.4 L1263.6,591.2 L1266.2,585.1 L1267.1,609.6 L1268.3,621.9 L1271.1,619.3 L1272.4,612.3 L1274.1,609.6 L1275.9,593.0 L1278.2,598.2 L1280.3,602.6 L1282.4,606.1 L1284.1,603.5 L1285.5,592.1 L1288.1,589.5 L1289.0,572.9 L1291.1,570.2 L1292.5,560.6 L1294.3,553.6 L1295.7,550.4 L1296.9,569.4 L1299.2,567.6 L1300.4,575.5 L1302.2,563.2 L1303.9,557.1 L1304.8,537.6 L1306.9,538.7 L1308.7,539.9 L1309.7,560.1 L1310.9,565.3 L1312.2,546.0 L1313.6,555.3 L1316.2,547.8 L1318.8,553.6 L1321.5,556.6 L1322.7,549.5 L1324.1,539.0 L1323.7,511.8 L1325.5,511.0 L1326.2,521.5 L1327.6,503.1 L1329.7,509.2 L1331.1,508.3 L1333.2,498.7 L1335.5,507.5 L1337.2,510.6 L1338.1,496.9 L1339.9,496.1 L1341.3,501.3 L1342.0,480.3 L1344.3,480.3 L1346.0,482.9 L1346.5,466.2 L1348.3,465.4 L1349.0,446.1 L1350.8,442.6 L1352.2,458.4 L1353.6,430.3 L1354.8,439.1 L1355.7,453.1 L1357.1,438.7 L1357.8,470.6 L1359.2,477.6 L1361.3,471.5 L1361.8,458.4 L1362.3,431.7 L1363.6,430.3 L1364.8,415.4 L1365.8,414.9 L1366.5,401.4 L1368.3,404.0 L1369.3,417.1 L1370.6,404.0 L1371.8,388.2 L1373.2,368.9 L1374.6,368.6 L1375.3,401.4 L1376.7,384.7 L1378.5,397.9 L1380.2,374.2 L1381.6,372.4 L1382.8,375.1 L1384.1,402.2 L1385.1,435.6 L1386.4,482.6 L1388.1,444.3 L1389.3,427.7 L1390.4,458.4 L1391.6,488.2 L1392.8,489.9 L1393.9,515.3 L1395.1,488.2 L1396.9,496.1 L1399.2,482.9 L1399.9,496.9 L1401.6,491.7 L1403.9,496.1 L1405.1,472.4 L1406.2,489.9 L1407.4,454.0 L1409.7,455.7 L1411.4,455.7 L1412.1,472.4 L1414.4,465.4 L1415.6,450.5 L1417.0,465.4 L1418.8,456.6 L1420.2,468.0 L1422.3,467.1 L1424.4,466.2 L1424.9,445.2 L1427.6,452.2 L1428.4,420.6 L1430.2,409.3 L1431.4,405.7 L1431.9,385.6 L1433.7,394.9 L1434.9,377.7 L1436.7,378.6 L1438.4,369.8 L1440.2,364.5 L1441.2,332.1 L1442.5,304.0 L1443.7,304.0 L1445.1,325.1 L1446.0,340.9 L1447.7,350.5 L1448.3,377.7 L1449.5,393.5 L1450.4,397.0 L1451.8,418.9 L1453.0,397.9 L1454.2,409.3 L1456.0,420.6 L1457.4,426.8 L1459.1,412.8 L1460.9,402.2 L1462.6,416.3 L1464.4,432.9 L1465.3,429.4 L1466.5,458.4 L1467.9,481.2 L1469.7,455.7 L1470.5,475.9 L1472.3,496.9 L1474.0,531.1 L1475.8,468.9 L1477.5,484.7 L1478.4,447.8 L1480.0,423.3 L1480.0,423.3 L1481.4,423.0 L1482.1,495.7 L1483.2,484.3 L1484.4,483.5 L1485.3,509.8 L1486.1,548.4 L1487.4,582.6 L1488.8,558.9 L1490.2,545.7 L1491.4,549.2 L1493.2,554.5 L1494.4,552.7 L1493.7,539.6 L1495.4,532.6 L1497.2,544.0 L1497.9,508.0 L1499.6,508.9 L1501.0,509.8 L1502.4,521.2 L1503.1,505.4 L1504.9,490.5 L1506.3,489.6 L1507.7,496.6 L1509.5,483.5 L1510.7,477.3 L1511.9,478.2 L1513.3,465.9 L1514.4,458.0 L1515.1,476.5 L1514.7,506.3 L1516.0,505.4 L1517.2,485.2 L1518.2,509.8 L1520.0,510.6 L1520.7,498.4 L1521.7,525.6 L1523.5,514.2 L1525.2,535.2 L1527.0,507.1 L1528.8,515.0 L1530.0,519.4 L1531.2,515.9 L1532.6,532.6 L1534.4,542.2 L1536.5,537.0 L1538.2,520.3 L1537.9,491.4 L1539.6,494.0 L1541.0,508.9 L1542.8,508.0 L1544.0,494.0 L1545.8,501.0 L1547.5,498.4 L1549.3,495.7 L1551.0,480.0 L1551.9,503.6 L1553.3,492.2 L1555.1,483.5 L1557.2,486.1 L1558.0,509.8 L1560.3,515.9 L1559.8,536.1 L1561.0,546.6 L1562.4,523.8 L1563.8,525.6 L1565.1,564.1 L1566.8,548.4 L1568.6,534.3 L1569.8,530.8 L1571.2,525.2 L1573.3,539.6 L1574.7,509.8 L1577.3,508.9 L1578.6,515.0 L1580.0,502.8 L1581.4,503.6 L1581.7,516.8 L1583.8,518.5 L1584.9,525.6 L1585.6,518.5 L1587.3,521.2 L1588.7,523.8 L1588.4,537.8 L1590.1,556.2 L1592.2,529.1 L1594.0,528.7 L1595.4,537.0 L1596.6,563.3 L1598.4,566.2 L1600.7,557.1 L1602.4,562.4 L1604.2,568.5 L1605.9,562.4 L1608.0,570.3 L1609.8,558.0 L1611.9,565.0 L1614.2,570.3 L1615.9,566.8 L1617.7,567.3 L1616.8,549.2 L1618.5,544.0 L1620.3,549.2 L1622.0,534.7 L1623.5,549.2 L1625.2,542.2 L1624.9,563.3 L1626.4,572.9 L1629.1,575.5 L1630.8,574.3 L1631.2,564.1 L1633.4,551.9 L1634.7,541.3 L1637.0,542.2 L1637.8,530.8 L1639.6,529.9 L1641.0,522.9 L1642.2,537.0 L1644.0,539.6 L1645.2,538.7 L1645.7,568.5 L1647.5,556.2 L1648.7,544.8 L1651.5,548.4 L1653.6,534.3 L1654.5,529.1 L1657.1,530.5 L1658.5,529.9 L1660.3,546.6 L1662.4,552.7 L1663.8,550.1 L1664.5,539.6 L1666.2,520.3 L1668.0,520.3 L1668.5,506.3 L1669.7,495.7 L1671.5,505.4 L1672.9,501.0 L1674.7,501.9 L1676.8,499.3 L1678.5,492.2 L1679.9,488.7 L1680.3,466.8 L1682.0,478.2 L1683.4,470.3 L1684.3,478.2 L1686.6,480.0 L1687.3,490.5 L1689.6,497.5 L1691.3,493.1 L1692.5,486.1 L1695.4,486.1 L1696.6,490.5 L1698.3,492.2 L1699.2,525.2 L1700.6,526.4 L1701.8,506.3 L1703.6,504.2 L1706.2,508.9 L1708.0,506.3 L1708.9,515.0 L1711.1,517.7 L1712.9,508.0 L1715.0,515.9 L1717.1,521.2 L1718.2,514.2 L1721.1,515.0 L1723.4,512.4 L1724.1,522.0 L1726.4,518.5 L1727.6,505.4 L1729.9,529.9 L1730.8,515.9 L1733.4,515.9 L1733.9,530.8 L1735.7,529.9 L1736.4,550.1 L1738.1,556.2 L1740.4,546.6 L1742.2,537.8 L1743.9,528.2 L1746.6,531.7 L1748.3,531.2 L1749.2,525.6 L1752.7,508.0 L1753.2,480.0 L1754.5,477.3 L1756.2,477.9 L1758.0,481.7 L1760.6,475.6 L1762.3,473.8 L1763.7,483.8 L1765.5,483.5 L1766.7,462.4 L1768.5,462.4 L1769.7,480.0 L1773.2,480.0 L1774.3,467.7 L1776.7,465.6 L1776.4,458.9 L1779.0,460.3 L1780.8,463.3 L1783.4,459.8 L1783.7,467.7 L1785.5,472.9 L1787.2,485.2 L1786.9,501.9 L1788.6,502.8 L1790.1,494.9 L1791.3,502.8 L1793.9,507.1 L1797.4,504.5 L1800.0,494.9 L1802.7,502.8 L1804.1,491.4 L1806.2,505.4 L1807.1,506.3 L1806.5,485.2 L1808.8,487.0 L1810.0,480.8 L1811.4,487.9 L1814.1,481.7 L1816.4,484.3 L1819.3,480.3 L1820.6,479.1 L1822.0,492.2 L1823.4,498.4 L1824.1,490.1 L1826.4,486.1 L1827.6,468.6 L1829.3,464.2 L1830.7,461.5 L1831.6,477.3 L1833.4,472.9 L1835.1,466.8 L1836.9,480.0 L1838.6,482.6 L1839.9,490.1 L1842.1,480.0 L1844.4,465.9 L1846.5,454.5 L1848.6,462.4 L1850.9,449.8 L1853.2,452.3 L1856.2,451.6 L1857.9,460.7 L1859.7,466.8 L1860.2,480.0 L1862.0,469.8 L1864.1,474.7 L1864.9,489.6 L1864.1,500.1 L1866.2,505.4 L1868.4,501.0 L1871.9,492.2 L1872.8,477.3 L1874.6,476.5 L1876.7,478.2 L1876.0,465.9 L1878.1,456.3 L1880.2,469.4 L1881.9,456.3 L1884.2,465.1 L1886.5,462.4 L1888.6,459.8 L1888.3,452.8 L1890.4,450.1 L1892.1,444.0 L1893.9,438.7 L1896.0,443.1 L1897.4,445.8 L1898.3,469.4 L1900.0,462.4 L1902.3,467.7 L1904.4,460.7 L1906.5,458.0 L1907.9,462.4 L1909.3,472.1 L1908.8,458.9 L1911.1,454.5 L1912.8,464.2 L1914.0,480.0 L1913.2,500.1 L1914.6,495.7 L1915.8,489.6 L1918.1,493.6 L1920.0,488.7 L1920.0,490.0 L1921.4,459.3 L1922.6,463.7 L1923.9,474.2 L1925.6,473.3 L1927.0,495.2 L1928.8,484.7 L1930.2,473.8 L1931.4,483.8 L1933.2,477.7 L1934.4,468.0 L1936.7,467.2 L1938.4,461.0 L1939.3,470.7 L1940.2,484.7 L1941.4,482.9 L1942.8,469.8 L1943.7,462.8 L1946.0,461.9 L1946.7,440.0 L1948.1,443.5 L1949.5,447.9 L1950.7,464.5 L1952.4,460.1 L1953.7,444.4 L1955.4,441.7 L1956.8,449.6 L1959.5,448.7 L1960.0,435.9 L1961.7,437.3 L1963.5,440.9 L1965.9,438.2 L1966.5,412.8 L1967.7,411.0 L1968.8,404.0 L1970.0,404.9 L1970.5,433.8 L1971.7,436.5 L1972.3,447.9 L1974.4,447.0 L1975.2,457.5 L1977.0,463.7 L1978.7,468.0 L1980.0,475.9 L1981.7,463.7 L1983.1,455.8 L1984.9,460.1 L1986.6,455.8 L1987.0,440.9 L1988.4,436.5 L1989.8,442.6 L1990.5,460.1 L1991.6,447.0 L1992.8,454.9 L1994.0,460.1 L1995.1,474.2 L1996.3,457.5 L1997.2,460.1 L1998.9,482.9 L1999.8,500.5 L2001.5,502.2 L2003.3,499.6 L2004.2,516.3 L2005.9,511.0 L2007.3,497.0 L2009.1,495.2 L2010.3,507.5 L2012.9,506.6 L2013.3,490.0 L2014.7,488.2 L2016.5,491.7 L2018.2,511.0 L2019.1,498.7 L2020.3,494.3 L2021.4,497.0 L2022.6,533.8 L2023.8,544.3 L2025.2,538.2 L2026.1,553.1 L2027.9,558.4 L2029.6,559.2 L2030.5,551.3 L2030.1,539.1 L2032.2,531.2 L2034.0,539.1 L2036.1,539.1 L2037.5,547.0 L2038.4,551.3 L2040.1,546.1 L2041.9,535.6 L2043.6,530.3 L2045.4,511.0 L2047.1,491.7 L2048.9,481.2 L2050.1,479.4 L2050.6,500.5 L2052.4,502.2 L2053.6,499.6 L2055.0,504.9 L2056.8,511.0 L2058.5,516.3 L2059.4,542.6 L2061.2,563.6 L2062.4,552.2 L2063.8,561.9 L2065.9,560.1 L2067.0,582.9 L2069.1,586.4 L2069.9,579.4 L2070.8,570.6 L2072.9,572.4 L2074.3,551.3 L2076.4,530.3 L2077.0,497.0 L2078.2,509.3 L2079.2,522.4 L2080.5,516.3 L2082.2,509.3 L2083.1,515.4 L2084.8,507.5 L2086.6,493.5 L2088.0,490.3 L2090.5,490.3 L2091.0,511.0 L2092.7,511.9 L2093.6,521.5 L2094.0,538.7 L2095.4,525.0 L2096.8,539.1 L2098.0,528.5 L2099.2,553.1 L2099.8,589.9 L2101.5,607.5 L2102.7,618.9 L2103.8,561.9 L2105.0,568.9 L2107.3,569.8 L2109.0,568.5 L2109.7,544.7 L2111.2,552.2 L2112.6,549.6 L2112.9,571.5 L2115.0,565.4 L2116.8,572.4 L2118.5,564.5 L2119.9,578.5 L2122.0,580.3 L2123.4,590.8 L2125.5,588.2 L2126.9,579.4 L2127.3,553.1 L2129.0,552.2 L2129.6,568.0 L2130.8,575.0 L2131.8,591.7 L2133.1,591.3 L2133.9,576.8 L2136.1,574.1 L2137.1,587.3 L2138.9,575.0 L2140.1,586.4 L2141.3,575.0 L2143.1,580.3 L2144.5,592.6 L2145.9,607.5 L2147.6,597.8 L2148.9,589.9 L2150.1,596.9 L2151.1,582.9 L2152.4,578.5 L2154.1,588.2 L2155.0,575.0 L2155.9,601.3 L2158.2,598.7 L2159.9,572.4 L2162.0,576.8 L2162.9,589.9 L2164.6,602.2 L2165.9,586.4 L2167.6,581.2 L2168.7,590.8 L2169.9,603.9 L2172.2,596.1 L2174.3,588.2 L2176.4,591.3 L2178.7,591.7 L2181.3,592.6 L2182.2,619.7 L2183.6,619.7 L2184.8,601.3 L2186.6,584.7 L2188.3,582.9 L2188.7,573.8 L2190.4,580.3 L2192.7,570.3 L2193.9,575.9 L2195.3,589.9 L2197.1,599.6 L2198.5,589.9 L2200.2,586.4 L2202.0,581.5 L2204.1,584.7 L2205.5,594.3 L2207.3,582.9 L2209.4,594.3 L2211.1,584.3 L2212.5,593.4 L2213.2,579.4 L2214.6,568.9 L2216.4,556.6 L2217.8,567.1 L2219.0,554.0 L2220.8,557.5 L2222.5,560.1 L2223.0,591.7 L2224.8,573.3 L2226.0,582.9 L2227.8,574.1 L2230.1,566.8 L2231.8,569.8 L2231.3,589.9 L2233.9,593.4 L2235.7,580.8 L2237.8,585.0 L2239.2,576.8 L2240.6,586.4 L2243.0,571.5 L2244.8,575.0 L2245.8,585.5 L2247.6,574.1 L2248.8,567.1 L2250.6,582.0 L2252.3,584.7 L2252.8,575.9 L2255.3,567.1 L2256.4,539.9 L2258.5,535.6 L2259.9,544.3 L2261.1,528.5 L2262.8,521.5 L2264.1,528.5 L2265.5,525.0 L2265.1,551.3 L2266.9,560.1 L2268.1,547.8 L2269.0,568.0 L2271.1,555.7 L2271.6,545.2 L2273.4,556.6 L2275.1,547.8 L2276.0,534.7 L2277.8,544.3 L2280.4,539.9 L2283.0,540.8 L2284.8,539.9 L2286.2,544.3 L2287.9,524.7 L2289.7,525.0 L2291.8,520.6 L2293.2,534.7 L2295.3,530.3 L2297.0,537.0 L2298.8,531.2 L2300.2,532.9 L2301.4,542.6 L2303.2,535.6 L2304.9,546.1 L2306.7,532.0 L2308.4,526.4 L2309.7,535.6 L2310.7,523.3 L2312.8,515.4 L2314.2,524.2 L2316.0,525.0 L2317.2,532.9 L2319.0,515.4 L2320.7,523.3 L2323.0,528.5 L2325.1,532.9 L2324.8,507.5 L2327.2,501.4 L2328.6,512.8 L2330.0,518.9 L2332.1,512.8 L2334.2,505.7 L2336.5,511.9 L2338.3,511.0 L2339.1,518.0 L2340.9,512.8 L2342.3,511.0 L2343.0,487.3 L2344.4,498.7 L2346.1,506.6 L2348.8,521.5 L2350.0,533.8 L2351.4,535.6 L2352.8,530.3 L2353.5,542.6 L2354.9,558.4 L2356.7,589.9 L2358.4,591.7 L2360.0,611.0 L2360.4,615.2 L2361.3,618.7 L2362.2,646.7 L2363.4,660.8 L2365.7,663.4 L2366.6,632.7 L2365.7,608.2 L2367.5,583.7 L2368.0,555.6 L2370.1,553.9 L2371.5,538.1 L2372.2,515.3 L2371.5,470.7 L2373.2,471.5 L2375.0,477.7 L2375.7,492.6 L2375.3,527.6 L2376.2,546.9 L2377.4,531.1 L2378.0,513.6 L2379.7,515.3 L2380.2,532.5 L2383.2,533.7 L2383.7,503.9 L2385.5,505.7 L2385.8,514.5 L2386.7,500.4 L2388.5,503.1 L2389.4,499.6" fill="none" stroke="#72beec" stroke-width="3.8" stroke-linejoin="round" stroke-linecap="round"/>
<rect x="1875.4" y="141.4" width="520.4" height="133.2" fill="#f2f2f2" stroke="#767676" stroke-width="2.3"/>
<line x1="1930.2" y1="175" x2="2015.3" y2="175" stroke="#23a8a2" stroke-width="4" stroke-linecap="round"/>
<line x1="1930.2" y1="241" x2="2015.3" y2="241" stroke="#72beec" stroke-width="4" stroke-linecap="round"/>
<g font-size="48" fill="#595959" stroke="#595959" stroke-width="0.45" style="word-spacing:1.8px"><text transform="translate(2023.8,189.7) scale(1,1.035)">Retail Partners</text><text transform="translate(2023.8,256.9) scale(1,1.035)">Peer Avg</text></g>
</svg>
</body></html>
